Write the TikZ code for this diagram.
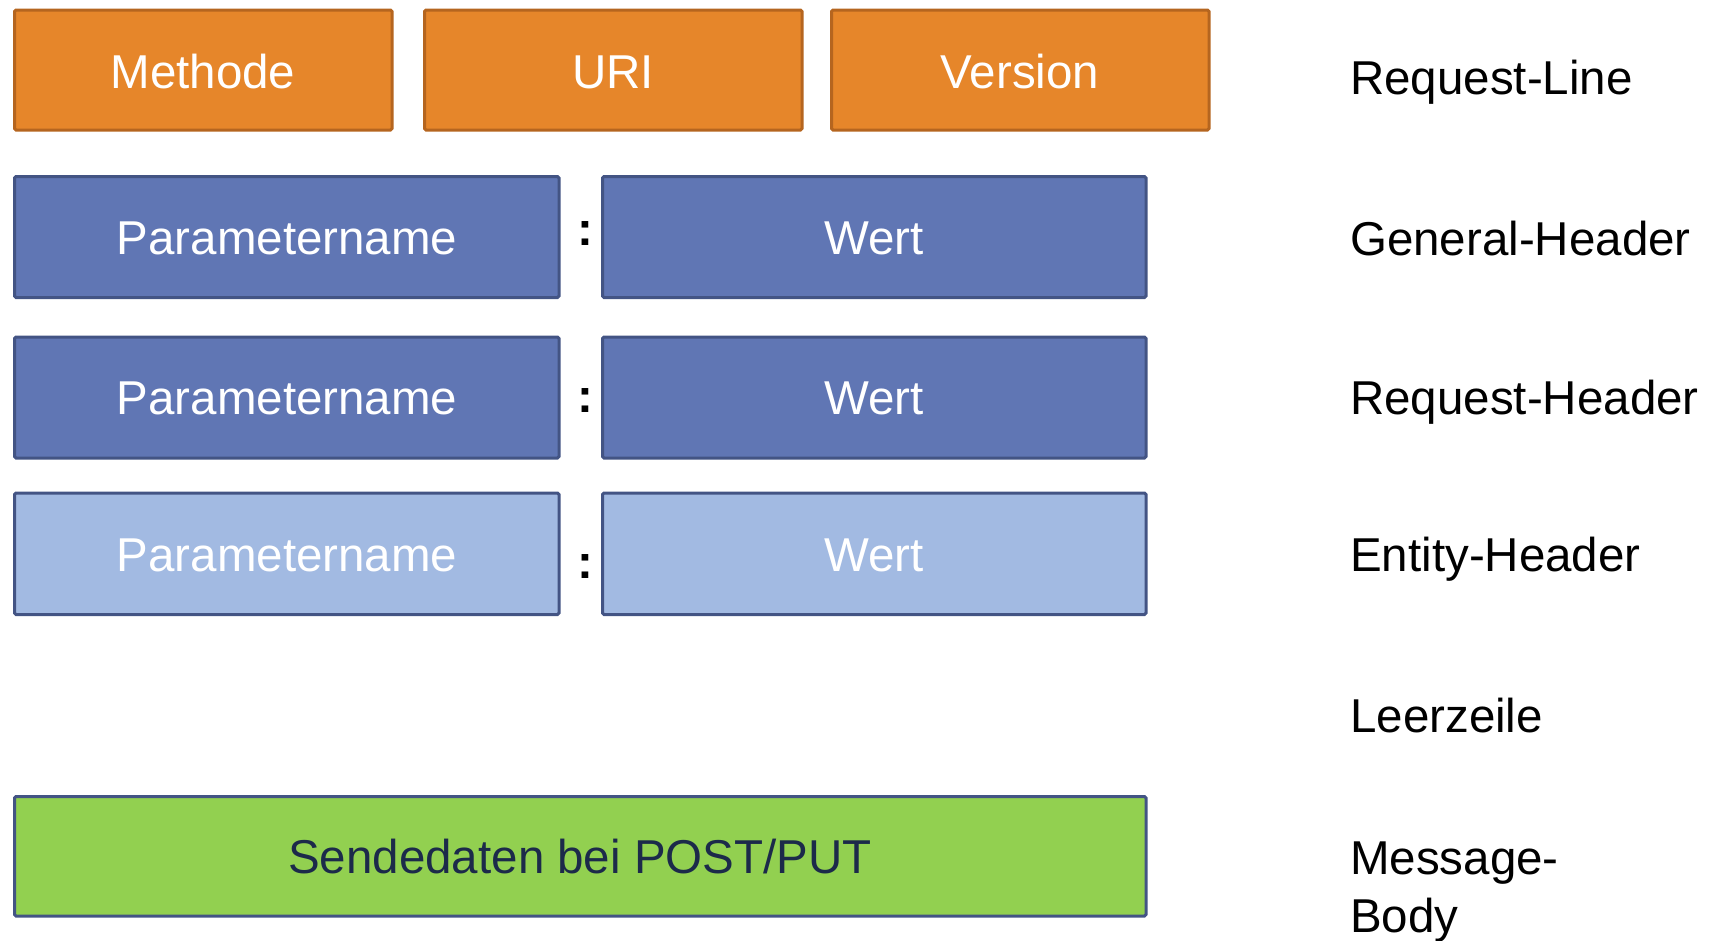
\documentclass[tikz,border=0pt]{standalone}
\usepackage{fontspec}
\setmainfont{Liberation Sans}
\definecolor{orfill}{HTML}{E6862A}
\definecolor{ordraw}{HTML}{B5651F}
\definecolor{blfill}{HTML}{6076B4}
\definecolor{bldraw}{HTML}{435484}
\definecolor{lbfill}{HTML}{A2BAE2}
\definecolor{grfill}{HTML}{92D050}
\definecolor{grtext}{HTML}{1C2A4A}
\begin{document}
\begin{tikzpicture}[x=1pt,y=-1pt,
  boxbase/.style={line width=3pt,rounded corners=1.5pt},
  orbox/.style={boxbase,fill=orfill,draw=ordraw},
  blbox/.style={boxbase,fill=blfill,draw=bldraw},
  lbbox/.style={boxbase,fill=lbfill,draw=bldraw},
  grbox/.style={boxbase,fill=grfill,draw=bldraw},
  txt/.style={anchor=base,inner sep=0pt,font=\fontsize{47.5}{58}\selectfont},
  wtxt/.style={txt,text=white},
  coltxt/.style={anchor=base,inner sep=0pt,font=\fontsize{47.5}{58}\selectfont\bfseries},
  lbl/.style={anchor=base west,inner sep=0pt,font=\fontsize{47.5}{58}\selectfont,text=black}]
\useasboundingbox (0,0) rectangle (1715,940);
% request line
\draw[orbox] (14.5,10) rectangle (392,130);
\draw[orbox] (424.5,10) rectangle (802,130);
\draw[orbox] (831.5,10) rectangle (1209,130);
\node[wtxt] (methode) at (203,88) {Methode};
\node[wtxt] (uri) at (613,88) {URI};
\node[wtxt] (version) at (1020,88) {Version};
% header rows
\draw[blbox] (14.5,176.5) rectangle (559,297.5);
\draw[blbox] (602.5,176.5) rectangle (1146,297.5);
\draw[blbox] (14.5,337) rectangle (559,458);
\draw[blbox] (602.5,337) rectangle (1146,458);
\draw[lbbox] (14.5,493) rectangle (559,614.5);
\draw[lbbox] (602.5,493) rectangle (1146,614.5);
\node[wtxt] (p1) at (287,254) {Parametername};
\node[wtxt] (w1) at (874,254) {Wert};
\node[wtxt] (p2) at (287,414) {Parametername};
\node[wtxt] (w2) at (874,414) {Wert};
\node[wtxt] (p3) at (287,571) {Parametername};
\node[wtxt] (w3) at (874,571) {Wert};
\node[coltxt] (c1) at (585,245) {:};
\node[coltxt] (c2) at (585,412) {:};
\node[coltxt] (c3) at (585,578) {:};
% body
\draw[grbox] (14.5,796.5) rectangle (1146,916);
\node[txt,text=grtext] (body) at (580,873) {Sendedaten bei POST/PUT};
% labels
\node[lbl] (l1) at (1350,94) {Request-Line};
\node[lbl] (l2) at (1350,255) {General-Header};
\node[lbl] (l3) at (1350,414) {Request-Header};
\node[lbl] (l4) at (1350,571) {Entity-Header};
\node[lbl] (l5) at (1350,732) {Leerzeile};
\node[lbl] (l6) at (1350,874) {Message-};
\node[lbl] (l7) at (1350,932) {Body};
\end{tikzpicture}
\end{document}
